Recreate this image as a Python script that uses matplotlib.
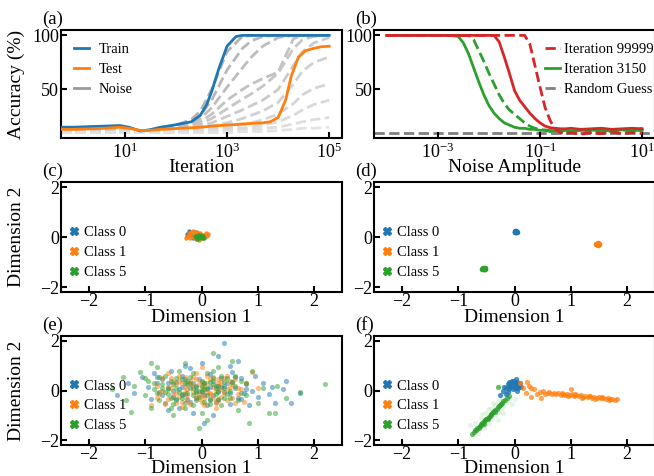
import matplotlib
matplotlib.use("Agg")
import matplotlib.pyplot as plt
from matplotlib.lines import Line2D
from matplotlib.ticker import FixedLocator, NullLocator

plt.rcParams["font.family"] = "serif"
plt.rcParams["font.serif"] = ["Liberation Serif", "DejaVu Serif"]
plt.rcParams["mathtext.fontset"] = "custom"
plt.rcParams["mathtext.rm"] = "Liberation Serif"
plt.rcParams["mathtext.it"] = "Liberation Serif:italic"

BLUE, ORANGE, GREEN, RED = "#1f77b4", "#ff7f0e", "#2ca02c", "#d62728"

# ---- (a) accuracy vs iteration ----
a_iter = [0.56, 1, 2, 4, 8, 12, 20, 30, 50, 80, 120, 200, 300, 400, 500, 700, 1000, 1500,
          2000, 3000, 5000, 7000, 10000, 14000, 18000, 25000, 35000, 50000, 70000, 100000]
train_acc = [15, 15, 15.5, 16, 16.5, 15, 11.5, 12.5, 15, 16.5, 18, 20, 26, 36, 48, 70, 90, 99,
             100, 100, 100, 100, 100, 100, 100, 100, 100, 100, 100, 100]
test_acc = [13, 13, 13.5, 14, 15, 14, 12, 12, 13, 13.5, 14, 14.5, 15, 15.5, 16, 16.5, 17, 17.5,
            18, 18.5, 19, 20, 24, 40, 62, 80, 86, 88, 89.5, 90]

noise_iter = [0.56, 3, 10, 20, 50, 100, 200, 300, 500, 1000, 2000, 3000, 5000, 10000, 20000, 30000, 50000, 100000]
noise_acc = [
    [14, 14, 15, 11, 14, 17, 22, 30, 50, 85, 99, 100, 100, 100, 100, 100, 100, 100],
    [13, 13, 14, 11, 13, 16, 20, 26, 40, 68, 88, 95, 99, 100, 100, 100, 100, 100],
    [13, 13, 14, 11, 13, 15, 18, 23, 33, 52, 70, 80, 90, 98, 100, 100, 100, 100],
    [12, 12, 13, 11, 12, 14, 17, 20, 27, 40, 50, 55, 60, 66, 97, 100, 100, 100],
    [12, 12, 12, 11, 12, 13, 15, 18, 23, 32, 41, 46, 53, 65, 88, 96, 99, 100],
    [11, 11, 12, 10, 11, 12, 14, 16, 19, 25, 31, 35, 40, 50, 72, 85, 93, 98],
    [11, 11, 11, 10, 11, 12, 13, 14, 16, 19, 23, 26, 30, 38, 55, 67, 75, 80],
    [10, 10, 11, 10, 10, 11, 12, 13, 14, 15, 17, 19, 22, 27, 37, 45, 51, 55],
    [10, 10, 10, 10, 10, 11, 11, 12, 12, 13, 14, 15, 17, 20, 26, 31, 36, 40],
    [10, 10, 10, 10, 10, 10, 10, 11, 11, 11, 12, 13, 14, 15, 18, 20, 22, 24],
    [10, 10, 10, 10, 10, 10, 10, 10, 10, 10, 11, 11, 11, 12, 13, 14, 14, 15],
]
noise_grey = ["#b4b4b4", "#b8b8b8", "#bdbdbd", "#c2c2c2", "#c6c6c6", "#cbcbcb",
              "#d0d0d0", "#d5d5d5", "#dadada", "#dedede", "#e3e3e3"]

# ---- (b) accuracy vs noise amplitude ----
b_amp = [1e-4, 10**-3.5, 1e-3, 10**-2.75, 10**-2.6, 10**-2.5, 10**-2.4, 10**-2.3, 10**-2.2, 10**-2.1,
         1e-2, 10**-1.9, 10**-1.8, 10**-1.7, 10**-1.6, 10**-1.5, 10**-1.4, 10**-1.3, 10**-1.2, 10**-1.1,
         1e-1, 10**-0.9, 10**-0.8, 10**-0.7, 10**-0.6, 10**-0.5, 10**-0.4, 10**-0.2, 1, 10**0.2,
         10**0.4, 10**0.6, 10**0.8, 10]
late_clean = [100, 100, 100, 100, 100, 100, 100, 100, 100, 100, 100, 100, 94, 80, 65, 49, 40, 34, 28, 23,
              19, 16, 14.5, 14, 13.5, 13.5, 14, 13, 13.5, 14, 13, 13.5, 14, 13.5]
late_dashed = [100, 100, 100, 100, 100, 100, 100, 100, 100, 100, 100, 100, 100, 100, 100, 100, 100, 100, 92, 72,
               52, 33, 21, 13, 10, 9, 10, 8.5, 10, 9, 10.5, 9, 10, 9.5]
early_clean = [100, 100, 100, 100, 99, 93, 83, 70, 57, 45, 35, 28, 23, 19, 17, 15, 14, 14, 13, 13,
               12, 12.5, 12, 11.5, 12.5, 12, 11.5, 12, 12.5, 11.5, 12, 12.5, 12, 12]
early_dashed = [100, 100, 100, 100, 100, 100, 100, 96, 86, 76, 65, 55, 45, 37, 31, 27, 23, 19, 16, 14,
                13, 12, 11, 12.5, 10, 13, 9.5, 13.5, 10, 14, 10.5, 13, 11, 14]
random_guess = 10

# ---- (c) embeddings at early iteration ----
c_class0 = [(-0.22, 0.25), (-0.25, 0.12), (-0.18, 0.08), (-0.12, 0.2), (-0.08, 0.05), (-0.15, -0.05),
            (0.0, 0.1), (-0.2, 0.18)]
c_class1 = [(-0.25, 0.05), (-0.22, 0.15), (-0.2, -0.05), (-0.18, 0.2), (-0.15, 0.0), (-0.12, 0.12),
            (-0.1, -0.08), (-0.08, 0.22), (-0.05, 0.05), (-0.02, 0.15), (0.0, -0.05), (0.03, 0.1),
            (0.05, 0.0), (0.08, 0.15), (-0.28, -0.05), (-0.15, 0.25), (0.1, 0.05), (-0.2, 0.1),
            (0.12, 0.13), (-0.05, -0.1)]
c_class5 = [(-0.1, 0.0), (-0.07, 0.05), (-0.05, -0.05), (-0.03, 0.03), (0.0, -0.02), (0.02, 0.06),
            (-0.08, -0.06), (-0.12, 0.04), (0.04, -0.04), (-0.02, 0.1), (0.01, 0.0), (-0.06, 0.08)]

# ---- (d) embeddings at late iteration ----
d_class0 = [(0.01, 0.22), (0.03, 0.24), (0.0, 0.2), (0.02, 0.2), (0.04, 0.22), (0.01, 0.25)]
d_class1 = [(1.47, -0.27), (1.49, -0.25), (1.46, -0.29), (1.5, -0.28), (1.48, -0.3), (1.45, -0.26)]
d_class5 = [(-0.55, -1.26), (-0.53, -1.24), (-0.57, -1.27), (-0.54, -1.29), (-0.56, -1.23), (-0.52, -1.27)]

# ---- (e) noisy embeddings, early ----
e_class0 = [(-1.3, 0.3), (-1.2, -0.1), (-1.05, 0.55), (-0.95, 0.15), (-0.9, -0.35), (-0.85, 0.7), (-0.8, 0.3),
            (-0.75, -0.05), (-0.7, 0.45), (-0.65, -0.5), (-0.6, 0.1), (-0.55, 0.8), (-0.5, -0.25), (-0.45, 0.35),
            (-0.4, 0.05), (-0.4, -0.7), (-0.35, 0.6), (-0.3, -0.15), (-0.25, 0.25), (-0.2, -0.45), (-0.2, 0.9),
            (-0.15, 0.1), (-0.1, -0.3), (-0.05, 0.45), (0.0, -0.05), (0.0, 1.1), (0.05, 0.3), (0.1, -0.6),
            (0.1, 0.05), (0.15, 0.65), (0.2, -0.2), (0.25, 0.2), (0.3, 1.4), (0.3, -0.4), (0.35, 0.5),
            (0.4, -0.05), (0.4, 1.9), (0.45, 0.3), (0.5, -0.55), (0.55, 0.75), (0.6, 0.1), (0.65, -0.3),
            (0.7, 0.5), (0.75, -0.1), (0.8, 0.25), (0.85, -0.6), (0.9, 0.0), (0.95, 0.6), (1.0, -0.25),
            (1.1, 0.3), (1.2, -0.15), (1.25, 0.15), (1.3, -0.5), (1.45, 0.05), (1.5, 0.4), (1.6, -0.5),
            (1.75, -0.1), (-0.15, -0.9), (0.2, -1.0), (-0.6, -0.8), (0.5, 1.0), (-0.3, 1.0), (0.05, -1.3),
            (0.65, 1.2), (-1.5, -0.2), (0.35, 0.15), (-0.1, 0.2), (0.15, -0.35), (-0.35, -0.2), (0.55, 0.35),
            (-0.6, 0.3), (-0.5, 0.0), (-0.45, -0.4), (-0.3, 0.45), (-0.25, -0.35), (-0.15, 0.3), (-0.05, 0.0),
            (0.05, -0.2), (0.2, 0.4), (0.25, -0.45), (0.4, 0.2), (0.5, -0.1), (0.6, 0.55), (0.7, -0.35),
            (-0.7, -0.2), (-0.8, 0.55), (0.15, 0.15), (-0.35, 0.15), (0.3, 0.0), (0.8, 0.05)]
e_class1 = [(-0.9, -0.6), (-0.8, 0.2), (-0.75, -0.15), (-0.7, 0.5), (-0.6, -0.35), (-0.55, 0.1), (-0.5, 0.35),
            (-0.45, -0.1), (-0.4, 0.6), (-0.35, -0.45), (-0.3, 0.15), (-0.25, -0.2), (-0.2, 0.4), (-0.15, -0.05),
            (-0.1, 0.7), (-0.05, -0.35), (0.0, 0.1), (0.0, 0.95), (0.05, -0.6), (0.1, 0.3), (0.15, -0.15),
            (0.2, 0.55), (0.25, 0.0), (0.3, -0.4), (0.35, 0.35), (0.4, -0.1), (0.45, 0.6), (0.5, 0.15),
            (0.55, -0.3), (0.6, 0.45), (0.7, 0.05), (0.75, -0.45), (0.8, 0.3), (0.9, 0.75), (1.0, 0.1),
            (-0.6, 0.7), (-0.35, -0.65), (0.25, -0.7), (-0.15, 0.2), (0.1, -0.05), (-0.25, 0.05), (0.3, 0.2),
            (-0.45, 0.25), (0.15, 0.45), (-0.05, -0.15), (0.4, 0.5), (-0.65, -0.55), (0.65, -0.15),
            (-0.5, -0.2), (-0.4, 0.4), (-0.3, -0.05), (-0.2, 0.25), (-0.1, -0.25), (0.0, 0.35), (0.05, 0.2),
            (0.2, -0.3), (0.3, 0.45), (0.45, 0.05), (-0.55, 0.5), (0.55, 0.25), (-0.7, 0.0), (0.0, -0.45),
            (0.35, -0.25), (-0.15, 0.55), (0.6, -0.5), (-0.45, -0.5),
            (-0.35, 0.3), (-0.25, -0.4), (-0.1, 0.45), (0.05, -0.3), (0.2, 0.15), (0.35, 0.05), (0.5, 0.4),
            (-0.6, 0.15), (-0.4, -0.25), (0.1, 0.6), (0.25, -0.5), (-0.2, -0.55), (0.45, -0.4), (-0.05, 0.25),
            (0.15, -0.1), (-0.3, 0.55), (0.65, 0.1), (-0.8, -0.3), (0.0, -0.2), (0.3, 0.3)]
e_class5 = [(-1.6, 0.05), (-1.4, 0.55), (-1.35, -0.4), (-1.2, 0.2), (-1.1, 0.75), (-1.0, -0.2), (-0.95, 0.4),
            (-0.9, -0.7), (-0.85, 0.05), (-0.8, 0.95), (-0.75, -0.4), (-0.7, 0.25), (-0.65, 0.6), (-0.6, -0.15),
            (-0.55, 0.4), (-0.5, -0.55), (-0.45, 0.1), (-0.4, 0.8), (-0.35, -0.3), (-0.3, 0.3), (-0.25, -0.1),
            (-0.2, 0.55), (-0.15, -0.6), (-0.1, 0.15), (-0.05, -0.25), (0.0, 0.4), (0.0, -0.9), (0.05, 0.05),
            (0.1, 0.7), (0.15, -0.4), (0.2, 0.25), (0.25, -0.15), (0.3, 0.95), (0.35, -0.6), (0.4, 0.1),
            (0.45, 0.5), (0.5, -0.3), (0.55, 1.2), (0.6, 0.2), (0.65, -0.8), (0.7, 0.4), (0.8, -0.2),
            (0.9, 0.8), (1.0, -0.5), (1.1, 0.1), (1.2, -0.9), (1.35, 0.2), (1.5, -0.3), (1.75, -0.05),
            (2.2, 0.25), (-0.5, -1.0), (0.1, -1.2), (0.85, -1.3), (-0.3, 1.1), (0.2, 1.5), (-1.25, -0.85),
            (-0.1, -0.05), (0.3, -0.05), (-0.6, 0.05), (0.15, 0.35), (-0.35, 0.45), (0.05, -0.45), (-0.2, 0.1),
            (0.5, 0.0), (-0.8, -0.1), (-0.05, -1.5), (1.3, -0.9), (-0.9, 1.1),
            (-0.7, 0.1), (-0.55, -0.3), (-0.45, 0.5), (-0.3, -0.5), (-0.2, 0.3), (-0.1, -0.4), (0.0, 0.2),
            (0.1, -0.2), (0.2, 0.5), (0.3, -0.35), (0.4, 0.35), (0.45, -0.15), (0.6, 0.6), (-0.85, 0.3),
            (-0.4, -0.05), (0.1, 0.1), (-0.15, -0.2), (0.25, 0.1), (0.7, -0.1), (-1.0, 0.5),
            (-0.65, -0.05), (-0.5, 0.25), (-0.35, -0.15), (-0.25, 0.4), (-0.1, 0.0), (0.05, 0.3), (0.15, -0.55),
            (0.3, 0.2), (0.4, -0.3), (0.55, 0.35), (-0.75, 0.55), (-0.55, -0.7), (0.2, 0.8), (-0.15, 0.7),
            (0.65, -0.4), (-0.45, -0.35), (0.0, 0.0), (0.35, 0.6), (-0.3, -0.7), (0.8, 0.3)]

# ---- (f) noisy embeddings, late ----
f_class0 = [(-0.2, 0.0), (-0.15, 0.1), (-0.12, 0.25), (-0.1, 0.05), (-0.1, 0.35), (-0.08, 0.15), (-0.05, 0.2),
            (-0.05, 0.4), (-0.03, 0.05), (0.0, 0.25), (0.0, 0.1), (0.02, 0.3), (0.03, 0.45), (0.05, 0.15),
            (0.05, 0.35), (0.08, 0.2), (0.1, 0.3), (-0.15, -0.15), (-0.18, 0.15), (-0.07, 0.3), (-0.02, 0.38),
            (0.04, 0.0), (-0.12, -0.05), (0.07, 0.1), (-0.25, -0.2), (0.12, 0.15), (-0.09, 0.22), (0.01, 0.18)]
f_class1 = [(0.1, 0.3), (0.15, 0.1), (0.2, -0.1), (0.25, 0.2), (0.3, -0.25), (0.35, 0.05), (0.4, -0.15),
            (0.45, -0.05), (0.5, 0.0), (0.55, -0.15), (0.6, -0.1), (0.3, 0.1), (0.22, 0.35), (0.48, -0.3),
            (0.62, -0.08), (0.66, -0.14), (0.7, -0.1), (0.74, -0.15), (0.78, -0.12), (0.82, -0.17), (0.86, -0.13),
            (0.9, -0.18), (0.94, -0.15), (0.98, -0.2), (1.0, 0.05), (1.02, -0.16), (1.06, -0.21), (1.1, -0.18),
            (1.14, -0.23), (1.18, -0.2), (1.22, -0.25), (1.26, -0.22), (1.3, -0.27), (1.34, -0.24), (1.38, -0.29),
            (1.42, -0.26), (1.46, -0.3), (1.5, -0.28), (1.54, -0.32), (1.58, -0.3), (1.62, -0.34), (1.66, -0.32),
            (1.7, -0.36), (1.74, -0.34), (1.78, -0.37), (1.82, -0.36), (0.84, -0.1), (1.08, -0.14), (1.32, -0.22),
            (1.56, -0.27), (0.96, -0.24), (1.2, -0.29), (1.44, -0.33), (1.68, -0.39)]
f_class5_core = [(-0.75, -1.75), (-0.72, -1.66), (-0.7, -1.6), (-0.68, -1.58), (-0.66, -1.5), (-0.64, -1.47),
                 (-0.62, -1.42), (-0.6, -1.38), (-0.58, -1.32), (-0.56, -1.3), (-0.54, -1.24), (-0.52, -1.2),
                 (-0.5, -1.14), (-0.48, -1.1), (-0.46, -1.05), (-0.44, -1.02), (-0.42, -0.96), (-0.4, -0.92),
                 (-0.38, -0.86), (-0.36, -0.83), (-0.34, -0.78), (-0.32, -0.74), (-0.3, -0.68), (-0.28, -0.64),
                 (-0.26, -0.6), (-0.24, -0.55), (-0.22, -0.5), (-0.2, -0.44), (-0.17, -0.38), (-0.14, -0.3),
                 (-0.1, -0.22), (-0.63, -1.52), (-0.55, -1.34), (-0.47, -1.15), (-0.41, -1.0), (-0.35, -0.88),
                 (-0.59, -1.36), (-0.51, -1.16), (-0.3, 0.15)]
f_class5_faint = [(-0.8, -1.4), (-0.7, -1.3), (-0.65, -1.7), (-0.6, -1.1), (-0.55, -1.5), (-0.5, -0.9),
                  (-0.45, -1.3), (-0.42, -0.7), (-0.4, -1.15), (-0.35, -0.6), (-0.33, -1.0), (-0.3, -0.45),
                  (-0.28, -0.85), (-0.25, -0.3), (-0.22, -0.7), (-0.2, -0.1), (-0.18, -0.6), (-0.15, 0.1),
                  (-0.12, -0.45), (-0.1, 0.3), (-0.08, -0.3), (-0.05, -0.55), (-0.38, -0.5), (-0.48, -0.75),
                  (-0.58, -0.95), (-0.3, -1.2), (0.0, -0.35), (-0.25, 0.2), (-0.52, -1.4), (-0.2, -0.9)]

class_names = ["Class 0", "Class 1", "Class 5"]
class_colors = [BLUE, ORANGE, GREEN]

W, H = 654, 476
fig = plt.figure(figsize=(W / 100, H / 100), dpi=100)


def px_axes(left, top, right, bottom):
    return fig.add_axes([left / W, 1 - bottom / H, (right - left) / W, (bottom - top) / H])


def style(ax, xpad=3, ypad=1.5):
    for sp in ax.spines.values():
        sp.set_linewidth(1.5)
    ax.tick_params(which="major", direction="in", length=4, width=1.5, labelsize=13)
    ax.tick_params(axis="x", pad=xpad)
    ax.tick_params(axis="y", pad=ypad)
    ax.tick_params(which="minor", length=0)


def panel(ax, label, height_px):
    ax.text(-0.066, 1 + 11 / height_px, label, transform=ax.transAxes, ha="left", va="center", fontsize=13.5)


def xy(points):
    return [p[0] for p in points], [p[1] for p in points]


ax_a = px_axes(61, 30, 342, 138)
ax_b = px_axes(374, 30, 655, 138)
ax_c = px_axes(61, 182, 342, 292)
ax_d = px_axes(374, 182, 655, 292)
ax_e = px_axes(61, 336, 342, 445)
ax_f = px_axes(374, 336, 655, 445)

# (a)
for vals, col in zip(noise_acc, noise_grey):
    ax_a.plot(noise_iter, vals, ls="--", lw=2, color=col, zorder=1)
ax_a.plot(a_iter, train_acc, color=BLUE, lw=2, zorder=3)
ax_a.plot(a_iter, test_acc, color=ORANGE, lw=2, zorder=3)
ax_a.set_xscale("log")
ax_a.set_xlim(10 ** -0.25, 10 ** 5.25)
ax_a.set_ylim(5, 105)
ax_a.xaxis.set_major_locator(FixedLocator([1e1, 1e3, 1e5]))
ax_a.xaxis.set_minor_locator(NullLocator())
ax_a.yaxis.set_major_locator(FixedLocator([50, 100]))
ax_a.set_xlabel("Iteration", fontsize=14)
ax_a.set_ylabel("Accuracy (%)", fontsize=14)
ax_a.legend(handles=[Line2D([], [], color=BLUE, lw=2), Line2D([], [], color=ORANGE, lw=2),
                     Line2D([], [], color="#999999", lw=2)],
            labels=["Train", "Test", "Noise"], loc="upper left", frameon=False, fontsize=10.5,
            handlelength=1.0, handletextpad=0.7, labelspacing=0.45)
style(ax_a)
panel(ax_a, "(a)", 108)

# (b)
ax_b.axhline(random_guess, color="gray", ls="--", lw=2, zorder=1)
ax_b.plot(b_amp, early_dashed, color=GREEN, ls="--", lw=2)
ax_b.plot(b_amp, early_clean, color=GREEN, lw=2)
ax_b.plot(b_amp, late_dashed, color=RED, ls="--", lw=2)
ax_b.plot(b_amp, late_clean, color=RED, lw=2)
ax_b.set_xscale("log")
ax_b.set_xlim(10 ** -4.25, 10 ** 1.25)
ax_b.set_ylim(5, 105)
ax_b.xaxis.set_major_locator(FixedLocator([1e-3, 1e-1, 1e1]))
ax_b.xaxis.set_minor_locator(NullLocator())
ax_b.yaxis.set_major_locator(FixedLocator([50, 100]))
ax_b.set_xlabel("Noise Amplitude", fontsize=14)
ax_b.legend(handles=[Line2D([], [], color=RED, ls="--", lw=2), Line2D([], [], color=GREEN, lw=2),
                     Line2D([], [], color="gray", ls="--", lw=2)],
            labels=["Iteration 99999", "Iteration 3150", "Random Guess"], loc="upper left",
            bbox_to_anchor=(0.563, 1.0), frameon=False, fontsize=10.5,
            handlelength=1.0, handletextpad=0.25, labelspacing=0.45)
style(ax_b, ypad=1)
panel(ax_b, "(b)", 108)

# (c)-(e) scatter panels
scatter_sets = [
    (ax_c, [c_class0, c_class1, c_class5], 0.9, 10),
    (ax_d, [d_class0, d_class1, d_class5], 1.0, 16),
    (ax_e, [e_class0, e_class1, e_class5], 0.5, 14),
]
for ax, sets, alpha, size in scatter_sets:
    for pts, col in zip(sets, class_colors):
        xs, ys = xy(pts)
        ax.scatter(xs, ys, s=size, color=col, marker="o", alpha=alpha, lw=0)

# (f)
xs, ys = xy(f_class5_faint)
ax_f.scatter(xs, ys, s=12, color=GREEN, alpha=0.12, lw=0)
xs, ys = xy(f_class5_core)
ax_f.scatter(xs, ys, s=14, color=GREEN, alpha=0.7, lw=0)
xs, ys = xy(f_class0)
ax_f.scatter(xs, ys, s=14, color=BLUE, alpha=0.8, lw=0)
xs, ys = xy(f_class1)
ax_f.scatter(xs, ys, s=14, color=ORANGE, alpha=0.7, lw=0)

for ax, lab, hpx, ylab in [(ax_c, "(c)", 110, True), (ax_d, "(d)", 110, False),
                           (ax_e, "(e)", 109, True), (ax_f, "(f)", 109, False)]:
    ax.set_xlim(-2.5, 2.5)
    ax.set_ylim(-2.2, 2.2)
    ax.xaxis.set_major_locator(FixedLocator([-2, -1, 0, 1, 2]))
    ax.yaxis.set_major_locator(FixedLocator([-2, 0, 2]))
    ax.set_xlabel("Dimension 1", fontsize=14)
    if ylab:
        ax.set_ylabel("Dimension 2", fontsize=14)
        ax.yaxis.set_label_coords(-0.128, 0.5)
    handles = [Line2D([], [], ls="none", marker="X", markersize=6, color=c) for c in class_colors]
    ax.legend(handles=handles, labels=class_names, loc="center left", bbox_to_anchor=(0, 0.36),
              frameon=False, fontsize=10.5, handlelength=0.6, handletextpad=0.4,
              borderaxespad=0.2, labelspacing=0.45)
    style(ax, xpad=0.5, ypad=1.5 if ylab else 1)
    panel(ax, lab, hpx)

ax_a.yaxis.set_label_coords(-0.128, 0.5)
ax_a.xaxis.set_label_coords(0.5, -0.19)
ax_b.xaxis.set_label_coords(0.5, -0.19)
ax_c.xaxis.set_label_coords(0.5, -0.15)
ax_d.xaxis.set_label_coords(0.5, -0.15)
ax_e.xaxis.set_label_coords(0.5, -0.14)
ax_f.xaxis.set_label_coords(0.5, -0.14)

fig.savefig("out.png", dpi=100)
